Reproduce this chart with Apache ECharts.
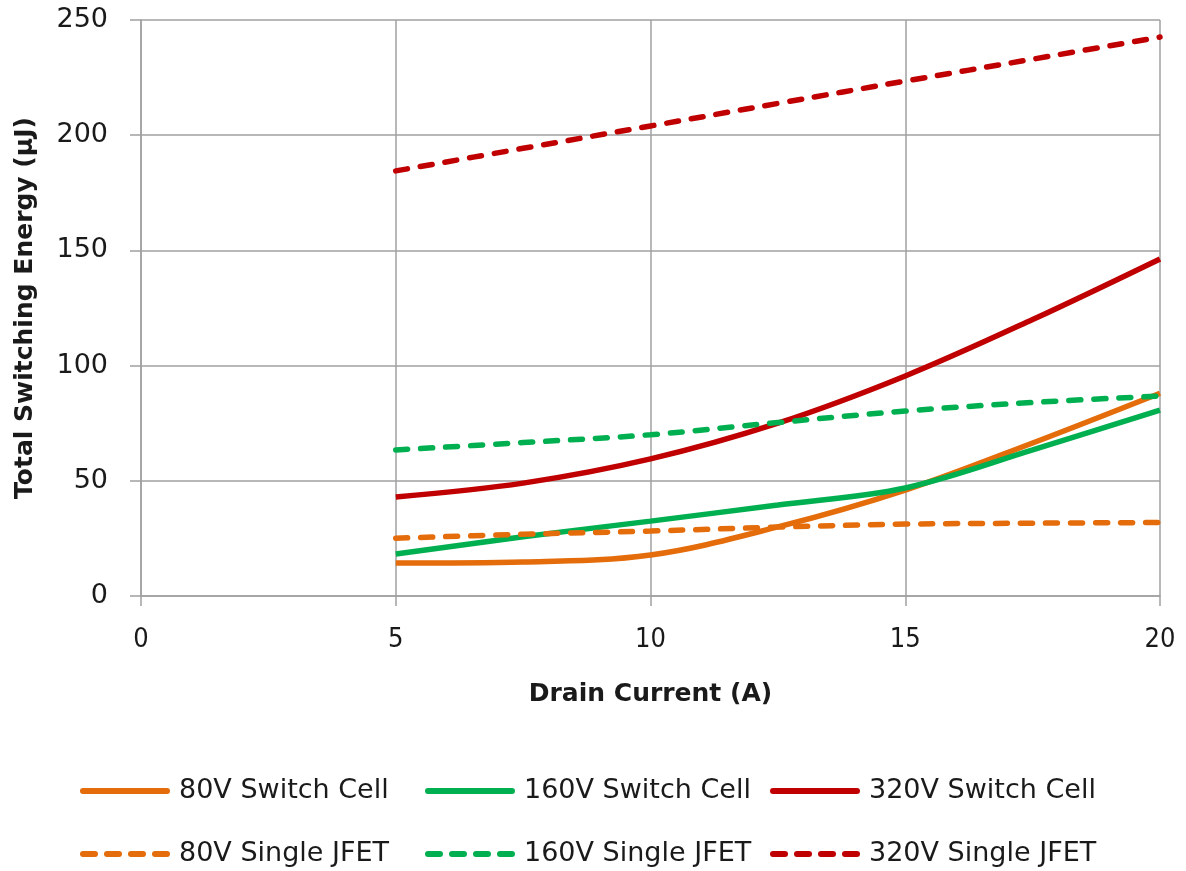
<!DOCTYPE html>
<html>
<head>
<meta charset="utf-8">
<script src="https://cdn.jsdelivr.net/npm/echarts@6/dist/echarts.min.js"></script>
<style>
  html, body { margin: 0; padding: 0; background: #fff; }
  #chart { width: 1186px; height: 871px; }
</style>
</head>
<body>
<div id="chart"></div>
<script>
// Drain current sample points (A)
const current = [5, 7.5, 10, 12.5, 15, 17.5, 20];

// Total switching energy (µJ) per configuration
const sw80 = [14.3, 14.8, 17.8, 30, 46, 66.4, 88];
const sw160 = [18.2, 25.7, 32.5, 39.5, 46.9, 63.4, 80.7];
const sw320 = [43, 49, 59.5, 75, 95.5, 120, 146.3];
const jfet80 = [25.1, 26.8, 28.2, 29.9, 31.2, 31.6, 31.9];
const jfet160 = [63.4, 66.6, 70, 75.3, 80.3, 84, 86.8];
const jfet320 = [184.5, 194.3, 204, 213.8, 223.5, 233, 242.6];

const xTicks = [0, 5, 10, 15, 20];
const yTicks = [0, 50, 100, 150, 200, 250];

const ORANGE = '#E46C0A';
const GREEN = '#00B050';
const RED = '#C00000';
const GRID = '#a0a0a0';
const TEXT = '#1a1a1a';
const FONT = '"DejaVu Sans", "Open Sans", sans-serif';
const CONDENSED = '"DejaVu Sans Condensed", "DejaVu Sans", sans-serif';

function pairs(vals) {
  return current.map((x, i) => [x, vals[i]]);
}

function makeSeries(name, vals, color, dashed) {
  return {
    name: name,
    type: 'line',
    data: pairs(vals),
    smooth: 0.35,
    symbol: 'none',
    lineStyle: {
      color: color,
      width: 5.5,
      type: dashed ? [12, 13] : 'solid',
      cap: dashed ? 'round' : 'butt'
    },
    itemStyle: { color: color, borderWidth: 0 },
    emphasis: { disabled: true }
  };
}

// Legend swatches: a rounded bar, or four rounded dashes
function roundBar(x0, x1, h) {
  const r = h / 2;
  return 'M' + (x0 + r) + ',0H' + (x1 - r) +
    'A' + r + ',' + r + ',0,0,1,' + (x1 - r) + ',' + h +
    'H' + (x0 + r) +
    'A' + r + ',' + r + ',0,0,1,' + (x0 + r) + ',0Z';
}
const SWATCH_H = 6;
const solidIcon = 'path://' + roundBar(0, 90, SWATCH_H);
const dashIcon = 'path://' + [[0, 18], [24, 42], [48, 66], [72, 90]]
  .map(d => roundBar(d[0], d[1], SWATCH_H)).join('');

const legendColumns = [80, 425, 770];
const legendRows = [776, 839];
const legendNames = [
  ['80V Switch Cell', '160V Switch Cell', '320V Switch Cell'],
  ['80V Single JFET', '160V Single JFET', '320V Single JFET']
];

const legends = [];
legendNames.forEach((row, r) => {
  row.forEach((name, c) => {
    legends.push({
      left: legendColumns[c],
      top: legendRows[r],
      padding: 0,
      itemWidth: 90,
      itemHeight: SWATCH_H,
      itemGap: 0,
      selectedMode: false,
      itemStyle: { borderWidth: 0 },
      data: [{ name: name, icon: r === 0 ? solidIcon : dashIcon }],
      textStyle: {
        fontFamily: FONT, fontSize: 27, color: TEXT,
        lineHeight: 30, padding: [0, 0, 0, 4]
      }
    });
  });
});

const chart = echarts.init(document.getElementById('chart'), null, { renderer: 'canvas' });

chart.setOption({
  animation: false,
  backgroundColor: '#ffffff',
  grid: { left: 141, right: 26, top: 20, bottom: 275, containLabel: false },
  xAxis: {
    type: 'value',
    min: xTicks[0],
    max: xTicks[xTicks.length - 1],
    interval: 5,
    name: 'Drain Current (A)',
    nameLocation: 'middle',
    nameGap: 86,
    nameTextStyle: { fontFamily: FONT, fontWeight: 'bold', fontSize: 25, color: TEXT },
    axisLine: { show: true, lineStyle: { color: GRID, width: 1.5 } },
    axisTick: { show: true, length: 10, lineStyle: { color: GRID, width: 1.5 } },
    axisLabel: { margin: 30, fontFamily: CONDENSED, fontSize: 27, color: TEXT },
    splitLine: { show: true, lineStyle: { color: GRID, width: 1.5 } }
  },
  yAxis: {
    type: 'value',
    min: yTicks[0],
    max: yTicks[yTicks.length - 1],
    interval: 50,
    name: 'Total Switching Energy (μJ)',
    nameLocation: 'middle',
    nameRotate: 90,
    nameGap: 103,
    nameTextStyle: { fontFamily: FONT, fontWeight: 'bold', fontSize: 25, color: TEXT },
    axisLine: { show: true, lineStyle: { color: GRID, width: 1.5 } },
    axisTick: { show: true, length: 11, lineStyle: { color: GRID, width: 1.5 } },
    axisLabel: { margin: 33, fontFamily: FONT, fontSize: 27, color: TEXT },
    splitLine: { show: true, lineStyle: { color: GRID, width: 1.5 } }
  },
  legend: legends,
  series: [
    makeSeries('80V Switch Cell', sw80, ORANGE, false),
    makeSeries('160V Switch Cell', sw160, GREEN, false),
    makeSeries('320V Switch Cell', sw320, RED, false),
    makeSeries('80V Single JFET', jfet80, ORANGE, true),
    makeSeries('160V Single JFET', jfet160, GREEN, true),
    makeSeries('320V Single JFET', jfet320, RED, true)
  ]
});
</script>
</body>
</html>
